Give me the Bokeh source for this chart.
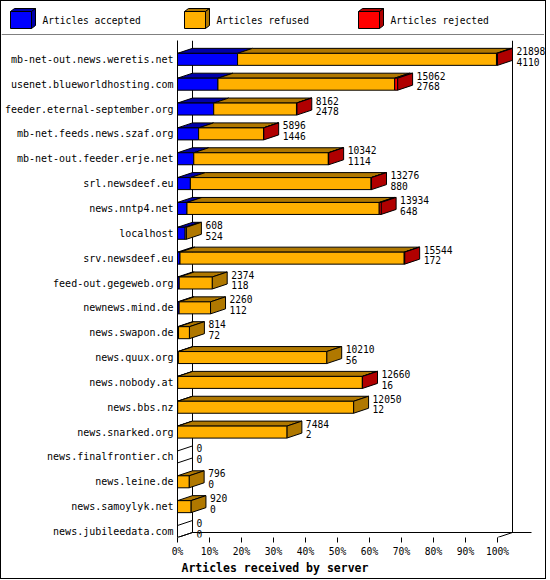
from bokeh.plotting import figure
from bokeh.layouts import column
from bokeh.models import Range1d, FixedTicker
from bokeh.embed import file_html
from bokeh.resources import INLINE
from bokeh.core.properties import value

# ---------------- data ----------------
servers = [
    "mb-net-out.news.weretis.net", "usenet.blueworldhosting.com",
    "feeder.eternal-september.org", "mb-net.feeds.news.szaf.org",
    "mb-net-out.feeder.erje.net", "srl.newsdeef.eu", "news.nntp4.net",
    "localhost", "srv.newsdeef.eu", "feed-out.gegeweb.org",
    "newnews.mind.de", "news.swapon.de", "news.quux.org", "news.nobody.at",
    "news.bbs.nz", "news.snarked.org", "news.finalfrontier.ch",
    "news.leine.de", "news.samoylyk.net", "news.jubileedata.com",
]
offered = [21898, 15062, 8162, 5896, 10342, 13276, 13934, 608, 15544, 2374,
           2260, 814, 10210, 12660, 12050, 7484, 0, 796, 920, 0]
accepted = [4110, 2768, 2478, 1446, 1114, 880, 648, 524, 172, 118,
            112, 72, 56, 16, 12, 2, 0, 0, 0, 0]
rejected = [70, 200, 20, 10, 20, 30, 130, 0, 30, 0,
            0, 0, 0, 10, 0, 0, 0, 0, 0, 0]
refused = [o - a - r for o, a, r in zip(offered, accepted, rejected)]

series_names = ["Articles accepted", "Articles refused", "Articles rejected"]
front_colors = ["#0000FF", "#FFB000", "#FF0000"]
dark_colors = ["#0000AA", "#B07800", "#B00000"]

x_ticks = [0, 10, 20, 30, 40, 50, 60, 70, 80, 90, 100]
x_tick_labels = ["0%", "10%", "20%", "30%", "40%", "50%", "60%", "70%", "80%", "90%", "100%"]
x_title = "Articles received by server"

FONT = "DejaVu Sans Mono"

# ---------------- geometry (pixels) ----------------
W = 543
LEG_H = 34
FRAME_LEFT = 175
FRAME_W = W - FRAME_LEFT
TOP_PAD = 5
BOTTOM_PAD = 37
ROW_PX = 24.85
PX_PER_PCT = 3.2
DEPTH_X_PX = 15
DEPTH_Y_PX = 5
HALF_BAR_PX = 6
FIRST_ROW_PX = 18.5
n = len(servers)
FRAME_H = round(ROW_PX * (n - 1) + FIRST_ROW_PX + HALF_BAR_PX)

dx = DEPTH_X_PX / PX_PER_PCT
dy = DEPTH_Y_PX / ROW_PX
hh = HALF_BAR_PX / ROW_PX
y_start = -HALF_BAR_PX / ROW_PX
y_end = y_start + FRAME_H / ROW_PX
x_end = FRAME_W / PX_PER_PCT

max_total = max(offered)


def pct(v):
    return v / max_total * 100.0


ys = [n - 1 - i for i in range(n)]

p = figure(width=W, height=FRAME_H + TOP_PAD + BOTTOM_PAD,
           frame_width=FRAME_W, frame_height=FRAME_H,
           x_range=Range1d(0, x_end), y_range=Range1d(y_start, y_end),
           output_backend="svg", toolbar_location=None,
           title=x_title, title_location="below",
           min_border_left=FRAME_LEFT, min_border_right=0,
           min_border_top=TOP_PAD, min_border_bottom=BOTTOM_PAD)
p.xgrid.visible = False
p.ygrid.visible = False
p.outline_line_color = None
p.background_fill_color = "white"
p.border_fill_color = "white"

p.title.align = "left"
p.title.offset = 4
p.title.text_font = FONT
p.title.text_font_style = "bold"
p.title.text_font_size = "11.5px"
p.title.text_color = "black"
p.title.standoff = 3
p.title.vertical_align = "top"

p.yaxis.ticker = FixedTicker(ticks=ys)
p.yaxis.major_label_overrides = {y: s for y, s in zip(ys, servers)}
p.yaxis.major_tick_out = 0
p.yaxis.major_tick_in = 0
p.yaxis.minor_tick_out = 0
p.yaxis.minor_tick_in = 0
p.yaxis.axis_line_color = "black"
p.yaxis.major_label_standoff = 4
p.yaxis.major_label_text_font = FONT
p.yaxis.major_label_text_font_size = "10px"
p.yaxis.major_label_text_color = "black"

p.xaxis.ticker = FixedTicker(ticks=x_ticks)
p.xaxis.major_label_overrides = {t: s for t, s in zip(x_ticks, x_tick_labels)}
p.xaxis.axis_line_color = None
p.xaxis.major_tick_out = 5
p.xaxis.major_tick_in = 0
p.xaxis.minor_tick_out = 0
p.xaxis.minor_tick_in = 0
p.xaxis.major_tick_line_color = "black"
p.xaxis.major_label_standoff = 3
p.xaxis.major_label_text_font = FONT
p.xaxis.major_label_text_font_size = "9.6px"
p.xaxis.major_label_text_color = "black"

# back walls / floor
floor_back = y_start + dy
floor_end = 100 + dx + 19 / PX_PER_PCT
p.segment(x0=[dx, 100 + dx, dx, 0, 100], y0=[floor_back, floor_back, floor_back, y_start, y_start],
          x1=[dx, 100 + dx, floor_end, dx, 100 + dx], y1=[y_end, y_end, floor_back, floor_back, floor_back],
          line_color="black", line_width=1)

# bars
front_l, front_r, front_t, front_b, front_c = [], [], [], [], []
top_xs, top_ys, top_c = [], [], []
side_xs, side_ys, side_c = [], [], []
empty_xs, empty_ys = [], []
for i in range(n):
    yc = ys[i]
    yb, yt = yc - hh, yc + hh
    vals = [accepted[i], refused[i], rejected[i]]
    start = 0.0
    last = None
    for k, v in enumerate(vals):
        if v <= 0:
            continue
        x0 = pct(start)
        x1 = pct(start + v)
        front_l.append(x0); front_r.append(x1)
        front_b.append(yb); front_t.append(yt)
        front_c.append(front_colors[k])
        top_xs.append([x0, x1, x1 + dx, x0 + dx])
        top_ys.append([yt, yt, yt + dy, yt + dy])
        top_c.append(dark_colors[k])
        start += v
        last = k
    xe = pct(start)
    if last is None:
        empty_xs.append([0, 0, dx, dx])
        empty_ys.append([yb, yt, yt + dy, yb + dy])
    else:
        side_xs.append([xe, xe, xe + dx, xe + dx])
        side_ys.append([yb, yt, yt + dy, yb + dy])
        side_c.append(dark_colors[last])

p.patches(xs=empty_xs, ys=empty_ys, fill_color=None, line_color="black", line_width=1)
p.patches(xs=top_xs, ys=top_ys, fill_color=top_c, line_color="black", line_width=1)
p.patches(xs=side_xs, ys=side_ys, fill_color=side_c, line_color="black", line_width=1)
p.quad(left=front_l, right=front_r, bottom=front_b, top=front_t,
       fill_color=front_c, line_color="black", line_width=1)

# value labels
tx = [pct(o) + dx + 4 / PX_PER_PCT for o in offered]
p.text(x=tx, y=[y + 8.5 / ROW_PX for y in ys], text=[str(o) for o in offered],
       text_font=value(FONT), text_font_size=value("9.6px"), text_color="black",
       text_align="left", text_baseline="middle")
p.text(x=tx, y=[y - 2.2 / ROW_PX for y in ys], text=[str(a) for a in accepted],
       text_font=value(FONT), text_font_size=value("9.6px"), text_color="black",
       text_align="left", text_baseline="middle")

# ---------------- legend strip ----------------
lf = figure(width=W, height=LEG_H, x_range=Range1d(0, W), y_range=Range1d(LEG_H, 0),
            output_backend="svg", toolbar_location=None, min_border=0)
lf.axis.visible = False
lf.xgrid.visible = False
lf.ygrid.visible = False
lf.outline_line_color = None
lf.background_fill_color = "white"
lf.border_fill_color = "white"

for fig in (lf, p):
    try:
        fig.frame_align = False
    except Exception:
        pass

LEG_X0 = 9
LEG_STEP = 174
CUBE_W, CUBE_H = 21, 17
CUBE_TOP = 10
CUBE_DX, CUBE_DY = 4, 3
lx = [LEG_X0 + LEG_STEP * k for k in range(len(series_names))]
lf.patches(xs=[[x, x + CUBE_W, x + CUBE_W + CUBE_DX, x + CUBE_DX] for x in lx],
           ys=[[CUBE_TOP, CUBE_TOP, CUBE_TOP - CUBE_DY, CUBE_TOP - CUBE_DY] for x in lx],
           fill_color=dark_colors, line_color="black", line_width=1)
lf.patches(xs=[[x + CUBE_W, x + CUBE_W, x + CUBE_W + CUBE_DX, x + CUBE_W + CUBE_DX] for x in lx],
           ys=[[CUBE_TOP + CUBE_H, CUBE_TOP, CUBE_TOP - CUBE_DY, CUBE_TOP + CUBE_H - CUBE_DY] for x in lx],
           fill_color=dark_colors, line_color="black", line_width=1)
lf.quad(left=lx, right=[x + CUBE_W for x in lx], top=[CUBE_TOP] * len(lx),
        bottom=[CUBE_TOP + CUBE_H] * len(lx), fill_color=front_colors,
        line_color="black", line_width=1)
lf.text(x=[x + 32 for x in lx], y=[CUBE_TOP + CUBE_H / 2] * len(lx), text=series_names,
        text_font=value(FONT), text_font_size=value("9.6px"), text_color="black",
        text_align="left", text_baseline="middle")
lf.segment(x0=[0], y0=[LEG_H - 0.5], x1=[W], y1=[LEG_H - 0.5], line_color="black", line_width=1)

layout = column(lf, p, styles={"border": "1px solid black"})

with open("out.html", "w") as f:
    f.write(file_html(layout, INLINE))
